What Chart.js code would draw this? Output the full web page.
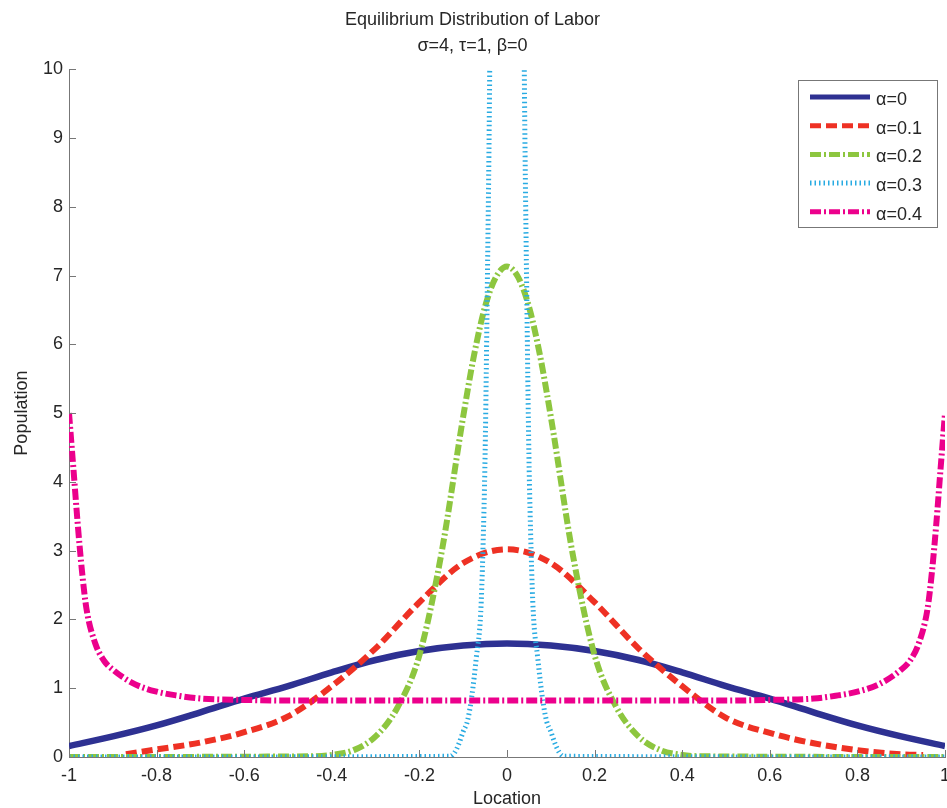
<!DOCTYPE html>
<html>
<head>
<meta charset="utf-8">
<script src="https://cdn.jsdelivr.net/npm/chart.js@4/dist/chart.umd.min.js"></script>
<style>
  html, body { margin: 0; padding: 0; background: #fff; }
  #wrap { width: 947px; height: 808px; }
</style>
</head>
<body>
<div id="wrap"><canvas id="laborChart" width="947" height="808"></canvas></div>
<script>
// tick labels
const xTicks = [-1, -0.8, -0.6, -0.4, -0.2, 0, 0.2, 0.4, 0.6, 0.8, 1];
const yTicks = [0, 1, 2, 3, 4, 5, 6, 7, 8, 9, 10];

const seriesNames = ['α=0', 'α=0.1', 'α=0.2', 'α=0.3', 'α=0.4'];

const locCoarse = [-1, -0.9, -0.8, -0.7, -0.6, -0.5, -0.4, -0.3, -0.2, -0.1, 0, 0.1, 0.2, 0.3, 0.4, 0.5, 0.6, 0.7, 0.8, 0.9, 1];
const popAlpha0 = [0.16, 0.30, 0.46, 0.65, 0.85, 1.03, 1.23, 1.41, 1.54, 1.62, 1.65, 1.62, 1.54, 1.41, 1.23, 1.03, 0.85, 0.65, 0.46, 0.30, 0.16];
const locAlpha01 = [-0.87, -0.8, -0.7, -0.6, -0.5, -0.4, -0.3, -0.2, -0.1, 0, 0.1, 0.2, 0.3, 0.4, 0.5, 0.6, 0.7, 0.8, 0.9, 0.95];
const popAlpha01 = [0.04, 0.11, 0.21, 0.36, 0.59, 1.03, 1.58, 2.25, 2.82, 3.02, 2.82, 2.25, 1.58, 1.03, 0.57, 0.35, 0.2, 0.1, 0.04, 0.03];

const locAlpha02 = [-1, -0.45, -0.4, -0.35, -0.3, -0.25, -0.2, -0.15, -0.1, -0.075, -0.05, -0.025, 0, 0.025, 0.05, 0.075, 0.1, 0.15, 0.2, 0.25, 0.3, 0.35, 0.4, 0.45, 1];
const popAlpha02 = [0, 0.01, 0.03, 0.1, 0.3, 0.72, 1.48, 2.95, 4.95, 5.85, 6.55, 6.98, 7.13, 6.98, 6.55, 5.85, 4.95, 2.95, 1.48, 0.72, 0.3, 0.1, 0.03, 0.01, 0];

const locAlpha03 = [-1, -0.13, -0.12, -0.11, -0.1, -0.09, -0.08, -0.07, -0.06, -0.055, -0.05, -0.045, -0.04, -0.035, -0.03, 0, 0.03, 0.035, 0.04, 0.045, 0.05, 0.055, 0.06, 0.07, 0.08, 0.09, 0.1, 0.11, 0.12, 0.13, 1];
const popAlpha03 = [0, 0.01, 0.06, 0.19, 0.37, 0.53, 0.9, 1.45, 2.1, 3.0, 4.4, 6.8, 9.6, 14, 20, 40, 20, 14, 9.6, 6.8, 4.4, 3.0, 2.1, 1.45, 0.9, 0.53, 0.37, 0.19, 0.06, 0.01, 0];

const locAlpha04 = [-1, -0.99, -0.98, -0.97, -0.96, -0.94, -0.92, -0.9, -0.85, -0.8, -0.75, -0.7, -0.6, -0.5, 0, 0.5, 0.6, 0.7, 0.75, 0.8, 0.85, 0.9, 0.92, 0.94, 0.96, 0.97, 0.98, 0.99, 1];
const popAlpha04 = [5.0, 4.2, 3.38, 2.68, 2.15, 1.65, 1.4, 1.27, 1.06, 0.95, 0.89, 0.85, 0.83, 0.82, 0.82, 0.82, 0.83, 0.85, 0.89, 0.95, 1.06, 1.27, 1.4, 1.65, 2.15, 2.68, 3.38, 4.2, 5.0];

function pairs(xs, ys) {
  return xs.map((x, i) => ({ x: x, y: ys[i] }));
}

const ctx = document.getElementById('laborChart');
const font = 'Liberation Sans, Arial, sans-serif';
const textColor = '#262626';

const datasets = [
  { label: seriesNames[0], data: pairs(locCoarse, popAlpha0), borderColor: '#2e3192', borderWidth: 6.5, borderDash: [], order: 5 },
  { label: seriesNames[1], data: pairs(locAlpha01, popAlpha01), borderColor: '#ee3124', borderWidth: 6, borderDash: [11, 5], order: 4 },
  { label: seriesNames[2], data: pairs(locAlpha02, popAlpha02), borderColor: '#8dc63f', borderWidth: 6, borderDash: [11, 3, 2, 3], order: 3 },
  { label: seriesNames[3], data: pairs(locAlpha03, popAlpha03), borderColor: '#29abe2', borderWidth: 5, borderDash: [1.5, 3], order: 2 },
  { label: seriesNames[4], data: pairs(locAlpha04, popAlpha04), borderColor: '#ec008c', borderWidth: 6, borderDash: [11, 3, 2, 3], order: 1 }
];
datasets.forEach(d => {
  d.pointRadius = 0;
  d.fill = false;
  d.cubicInterpolationMode = 'monotone';
  d.borderCapStyle = 'butt';
});

// matlab style ticks pointing into the plot
const insideTicks = {
  id: 'insideTicks',
  afterDraw(chart) {
    const { ctx, chartArea, scales } = chart;
    ctx.save();
    ctx.strokeStyle = '#777';
    ctx.lineWidth = 1;
    ctx.beginPath();
    scales.x.ticks.forEach(t => {
      const px = Math.round(scales.x.getPixelForValue(t.value)) + 0.5;
      ctx.moveTo(px, chartArea.bottom);
      ctx.lineTo(px, chartArea.bottom - 7);
    });
    scales.y.ticks.forEach(t => {
      const py = Math.round(scales.y.getPixelForValue(t.value)) + 0.5;
      ctx.moveTo(chartArea.left, py);
      ctx.lineTo(chartArea.left + 7, py);
    });
    ctx.stroke();
    ctx.restore();
  }
};

// boxed legend in the upper right corner
const boxLegend = {
  id: 'boxLegend',
  afterDraw(chart) {
    const c = chart.ctx;
    const left = 798, top = 80, w = 139, h = 147;
    c.save();
    c.fillStyle = '#fff';
    c.fillRect(left, top, w, h);
    c.strokeStyle = '#777';
    c.lineWidth = 1;
    c.strokeRect(left + 0.5, top + 0.5, w, h);
    chart.data.datasets.forEach((ds, i) => {
      const y = top + 17 + i * 28.7;
      c.beginPath();
      c.strokeStyle = ds.borderColor;
      c.lineWidth = Math.min(ds.borderWidth, 5);
      c.setLineDash(ds.borderDash);
      c.moveTo(810, y);
      c.lineTo(870, y);
      c.stroke();
      c.setLineDash([]);
      c.fillStyle = textColor;
      c.font = '18px ' + font;
      c.textBaseline = 'middle';
      c.fillText(ds.label, 876, y + 3);
    });
    c.restore();
  }
};

new Chart(ctx, {
  type: 'line',
  data: { datasets: datasets },
  plugins: [insideTicks, boxLegend],
  options: {
    responsive: false,
    animation: false,
    layout: { padding: { left: 0, right: 2, top: 0, bottom: 0 } },
    plugins: {
      legend: { display: false },
      tooltip: { enabled: false },
      title: {
        display: true,
        text: ['Equilibrium Distribution of Labor', 'σ=4, τ=1, β=0'],
        color: textColor,
        font: { family: font, size: 18, weight: 'normal', lineHeight: 1.45 },
        padding: { top: 7, bottom: 10 }
      }
    },
    scales: {
      x: {
        type: 'linear',
        min: -1,
        max: 1,
        afterBuildTicks: (scale) => { scale.ticks = xTicks.map(v => ({ value: v })); },
        afterFit: (scale) => { scale.height = 51; scale.paddingLeft = 0; scale.paddingRight = 0; },
        grid: { display: false, drawTicks: false },
        border: { display: true, color: '#777', width: 1 },
        ticks: {
          color: textColor,
          padding: 8,
          maxRotation: 0,
          autoSkip: false,
          font: { family: font, size: 18 },
          callback: (v) => String(Math.round(v * 10) / 10)
        },
        title: {
          display: true,
          text: 'Location',
          color: textColor,
          font: { family: font, size: 18, lineHeight: 1 },
          padding: { top: 0, bottom: 0 }
        }
      },
      y: {
        type: 'linear',
        min: 0,
        max: 10,
        afterBuildTicks: (scale) => { scale.ticks = yTicks.map(v => ({ value: v })); },
        afterFit: (scale) => { scale.width = 69; scale.paddingTop = 0; scale.paddingBottom = 0; },
        grid: { display: false, drawTicks: false },
        border: { display: true, color: '#777', width: 1 },
        ticks: {
          color: textColor,
          padding: 6,
          autoSkip: false,
          font: { family: font, size: 18 }
        },
        title: {
          display: true,
          text: 'Population',
          color: textColor,
          font: { family: font, size: 18, lineHeight: 1.2 },
          padding: { top: 11, bottom: 0 }
        }
      }
    }
  }
});
</script>
</body>
</html>
